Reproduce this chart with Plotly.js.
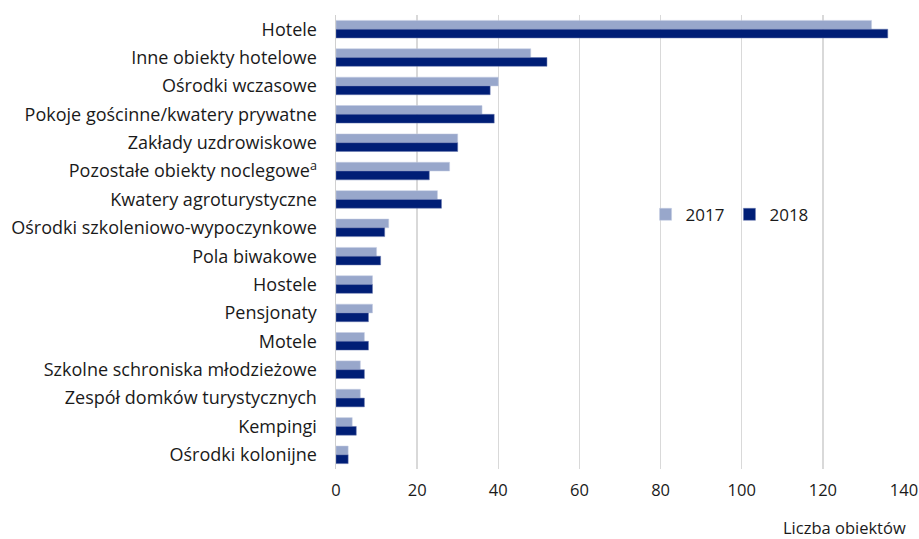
<!DOCTYPE html>
<html>
<head>
<meta charset="utf-8">
<script src="https://cdn.plot.ly/plotly-3.0.1.min.js"></script>
<style>html,body{margin:0;padding:0;background:#fff;}#chart{width:919px;height:539px;}</style>
</head>
<body>
<div id="chart"></div>
<script>
const categories = [
  "Hotele",
  "Inne obiekty hotelowe",
  "Ośrodki wczasowe",
  "Pokoje gościnne/kwatery prywatne",
  "Zakłady uzdrowiskowe",
  "Pozostałe obiekty noclegowe<sup>a</sup>",
  "Kwatery agroturystyczne",
  "Ośrodki szkoleniowo-wypoczynkowe",
  "Pola biwakowe",
  "Hostele",
  "Pensjonaty",
  "Motele",
  "Szkolne schroniska młodzieżowe",
  "Zespół domków turystycznych",
  "Kempingi",
  "Ośrodki kolonijne"
];
const values2017 = [132, 48, 40, 36, 30, 28, 25, 13, 10, 9, 9, 7, 6, 6, 4, 3];
const values2018 = [136, 52, 38, 39, 30, 23, 26, 12, 11, 9, 8, 8, 7, 7, 5, 3];
const seriesNames = ["2017", "2018"];
const xTicks = [0, 20, 40, 60, 80, 100, 120, 140];

const font = "Open Sans, Noto Sans, sans-serif";
const data = [
  {type: "bar", orientation: "h", name: seriesNames[0], y: categories, x: values2017,
   marker: {color: "#98a7cb", line: {color: "#c5cde3", width: 0.5}}},
  {type: "bar", orientation: "h", name: seriesNames[1], y: categories, x: values2018,
   marker: {color: "#001e76", line: {color: "#6b7bb0", width: 0.5}}}
];
const layout = {
  width: 919, height: 539,
  margin: {l: 336, r: 15, t: 15, b: 70},
  paper_bgcolor: "#fff", plot_bgcolor: "#fff",
  barmode: "group", bargap: 0.38, bargroupgap: 0,
  font: {family: font, color: "#1a1a1a", size: 17},
  xaxis: {range: [0, 140], tickvals: xTicks, showgrid: true, gridcolor: "#d9d9d9", gridwidth: 1.5,
          zeroline: false, showline: false, ticks: "", tickfont: {size: 16.5, color: "#1a1a1a"},
          ticklabelstandoff: 9},
  yaxis: {autorange: "reversed", type: "category", showgrid: false, showline: true, linecolor: "#d0d0d0",
          linewidth: 1.5, ticks: "", tickfont: {size: 18, color: "#1a1a1a"}, ticklabelstandoff: 14},
  legend: {orientation: "h", x: 0.545, y: 0.56, xanchor: "left", yanchor: "middle",
           font: {size: 17, color: "#1a1a1a"}, bgcolor: "rgba(255,255,255,0)", itemwidth: 30},
  showlegend: true,
  annotations: [{text: "Liczba obiektów", xref: "paper", yref: "paper", x: 1.005, y: -0.128,
                 xanchor: "right", yanchor: "middle", showarrow: false, borderpad: 0,
                 font: {size: 16.5, color: "#1a1a1a"}}]
};
Plotly.newPlot("chart", data, layout, {displayModeBar: false, staticPlot: true});
</script>
</body>
</html>
